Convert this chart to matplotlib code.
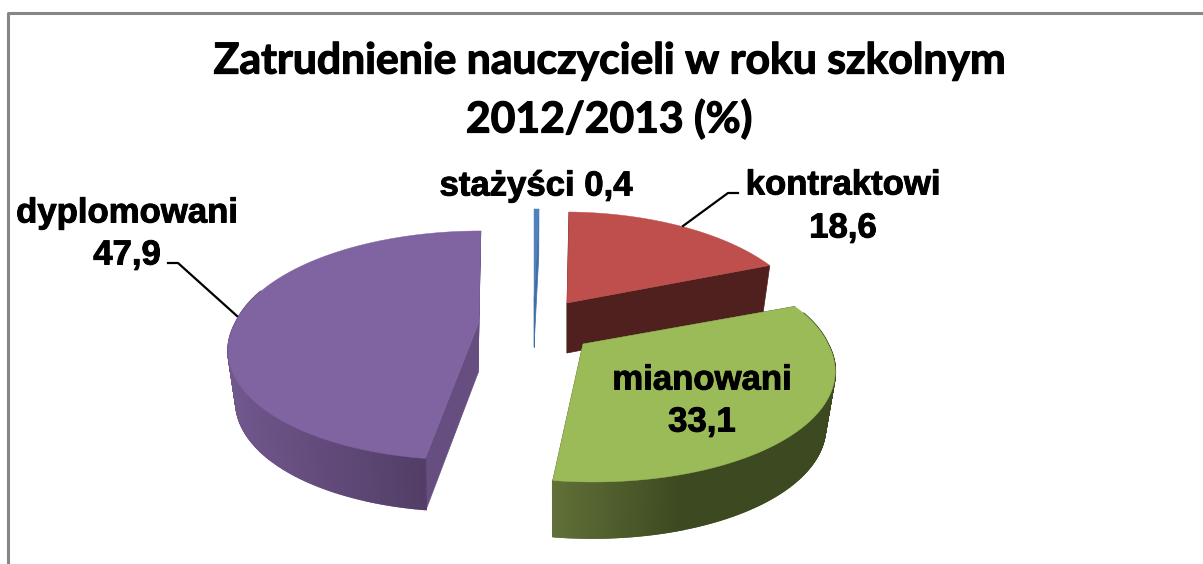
import matplotlib
matplotlib.use("Agg")
import matplotlib.pyplot as plt
import matplotlib.patheffects as pe
import numpy as np

# dane z wykresu
names = ["stażyści", "kontraktowi", "mianowani", "dyplomowani"]
values = [0.4, 18.6, 33.1, 47.9]
title = "Zatrudnienie nauczycieli w roku szkolnym\n2012/2013 (%)"

# wyglad kazdego wycinka (piksele obrazka)
top_color = ["#4F81BD", "#BE4F4C", "#9BBB59", "#8064A2"]
cut_color = ["#3F6FA5", "#4F201D", "#4A5A25", "#664F80"]
apex = [(534, 300), (567, 303), (583, 344), (479, 322)]
apex_low = [(534, 347), (567, 353), (582, 400), (478, 373)]
radius_x = [236, 236, 245, 243]
shear_up = [0, 0.033, 0, -0.02]
shear_down = [0, 0, 0.075, -0.1]
# gradient sciany bocznej: x, kolor
wall_x = [None, None, [553, 680, 835], [232, 428]]
wall_rgb = [None, None,
            [(0.38, 0.44, 0.22), (0.24, 0.29, 0.13), (0.24, 0.29, 0.13)],
            [(0.44, 0.34, 0.55), (0.32, 0.24, 0.40)]]
RY = 109.7
K = 0.205
SHRINK = 0.965


def top_point(th, i):
    z = np.cos(th)
    s = 1 / (1 + K * z)
    dy = -RY * z * s
    dx = radius_x[i] * np.sin(th) * s
    dx = dx + shear_up[i] * np.minimum(dy, 0) + shear_down[i] * np.maximum(dy, 0)
    return apex[i][0] + dx, apex[i][1] + dy


def low_point(th, i):
    x, y = top_point(th, i)
    return apex_low[i][0] + SHRINK * (x - apex[i][0]), apex_low[i][1] + (y - apex[i][1])


def wall_color(x, i):
    return [np.interp(x, wall_x[i], [c[k] for c in wall_rgb[i]]) for k in range(3)]


fig, ax = plt.subplots(figsize=(12.03, 5.64), dpi=100)
fig.subplots_adjust(0, 0, 1, 1)
ax.set_xlim(0, 1203)
ax.set_ylim(564, 0)
ax.axis("off")

# ramka (tylko gora i lewa strona sa widoczne)
ax.plot([7.5, 7.5, 1203], [564, 12.5, 12.5], color="#868686", lw=2.2)

edges = np.cumsum([0] + values) / sum(values) * 2 * np.pi
for i in range(len(values)):
    th0, th1 = edges[i], edges[i + 1]
    # sciany przekroju
    for th in (th0, th1):
        p = top_point(th, i)
        q = low_point(th, i)
        ax.fill([apex[i][0], p[0], q[0], apex_low[i][0]], [apex[i][1], p[1], q[1], apex_low[i][1]],
                color=cut_color[i], lw=0.5)
    # sciana zewnetrzna, tylko przednia czesc
    th = np.linspace(th0, th1, 400)
    th = th[np.cos(th) < 0.3]
    if wall_x[i] is not None:
        for a, b in zip(th[:-1], th[1:]):
            pa, pb = top_point(a, i), top_point(b, i)
            qa, qb = low_point(a, i), low_point(b, i)
            col = wall_color((pa[0] + pb[0]) / 2, i)
            ax.fill([pa[0], pb[0], qb[0], qa[0]], [pa[1], pb[1], qb[1], qa[1]], color=col, lw=1.2)
    # wierzch wycinka
    th = np.linspace(th0, th1, 200)
    xs, ys = top_point(th, i)
    ax.fill(np.r_[apex[i][0], xs], np.r_[apex[i][1], ys], color=top_color[i], lw=0.3)

# linie odniesienia
ax.plot([738, 728, 683], [193, 193, 226], color="black", lw=1.6)
ax.plot([168, 178, 237], [263, 263, 316], color="black", lw=1.6)

ax.text(609, 90, title, ha="center", va="center", family="Lato", weight="bold",
        fontsize=30.7, linespacing=1.5, color="black",
        path_effects=[pe.withStroke(linewidth=0.9, foreground="black")])

labels = [f"{n} {str(v).replace('.', ',')}" for n, v in zip(names, values)]
lab = dict(ha="center", va="center", family="Liberation Sans", weight="bold", fontsize=25, color="black",
           path_effects=[pe.withStroke(linewidth=0.7, foreground="black")])
ax.text(536, 186, labels[0], **lab)
ax.text(843, 185, names[1], **lab)
ax.text(843, 228, str(values[1]).replace(".", ","), **lab)
ax.text(702, 380, names[2], **lab)
ax.text(702, 422, str(values[2]).replace(".", ","), **lab)
ax.text(127, 213, names[3], **lab)
ax.text(127, 255, str(values[3]).replace(".", ","), **lab)

fig.savefig("out.png", dpi=100, facecolor="white")
